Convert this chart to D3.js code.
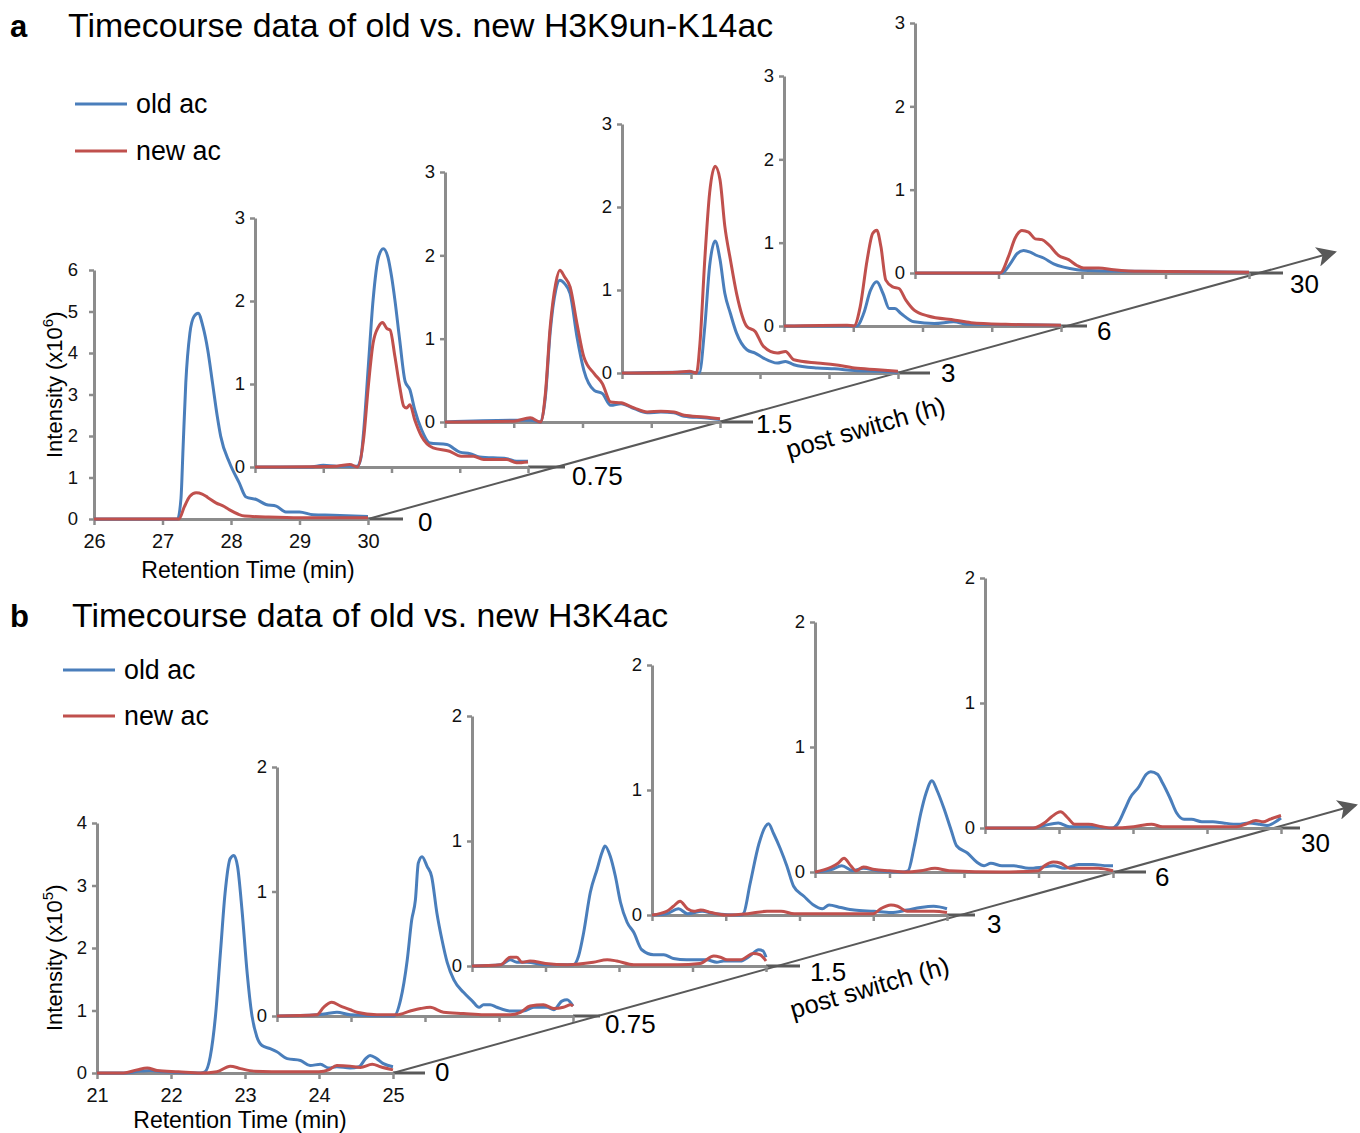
<!DOCTYPE html>
<html><head><meta charset="utf-8">
<script src="https://cdn.jsdelivr.net/npm/d3@7"></script>
<style>body{margin:0;background:#fff} svg{display:block} text{font-family:"Liberation Sans",Arial,Helvetica,sans-serif}</style>
</head><body><svg id="c" width="1360" height="1133"></svg>
<script>
// ---------- DATA ----------
const timepointsA = ["0","0.75","1.5","3","6","30"];
const timepointsB = ["0","0.75","1.5","3","6","30"];
const xTicksA = [26,27,28,29,30];
const xTicksB = [21,22,23,24,25];
const yTicksA0 = [0,1,2,3,4,5,6];
const yTicksA = [0,1,2,3];
const yTicksB0 = [0,1,2,3,4];
const yTicksB = [0,1,2];
const seriesNames = ["old ac","new ac"];
const titleA = "Timecourse data of old vs. new H3K9un-K14ac";
const titleB = "Timecourse data of old vs. new H3K4ac";

// Panel a (x10^6), [retention time (min), intensity]
const a0_old = [[26,0],[27.22,0],[27.27,0.5],[27.30,1.7],[27.34,3.28],[27.40,4.48],[27.46,4.88],[27.52,4.96],[27.59,4.64],[27.66,4.08],[27.73,3.28],[27.80,2.47],[27.85,1.99],[27.98,1.35],[28.12,0.87],[28.22,0.53],[28.37,0.47],[28.51,0.35],[28.66,0.31],[28.80,0.17],[29.0,0.17],[29.2,0.10],[29.49,0.09],[30,0.06]];
const a0_new = [[26,0],[27.24,0],[27.32,0.3],[27.40,0.55],[27.49,0.63],[27.58,0.60],[27.66,0.52],[27.78,0.39],[27.90,0.30],[27.98,0.22],[28.10,0.12],[28.2,0.07],[28.5,0.05],[29,0.03],[30,0.03]];
const a1_old = [[26,0],[26.8,0],[27.0,0.02],[27.2,0.01],[27.5,0.01],[27.55,0.1],[27.59,0.41],[27.66,1.21],[27.73,2.01],[27.81,2.53],[27.88,2.63],[27.95,2.52],[28.0,2.30],[28.05,2.01],[28.12,1.53],[28.20,1.03],[28.27,0.93],[28.34,0.69],[28.44,0.45],[28.56,0.29],[28.81,0.27],[29.0,0.18],[29.15,0.16],[29.29,0.12],[29.69,0.10],[29.83,0.07],[30,0.07]];
const a1_new = [[26,0],[27.2,0.01],[27.39,0.03],[27.5,0],[27.59,0.33],[27.66,0.97],[27.73,1.49],[27.81,1.69],[27.87,1.74],[27.93,1.67],[27.98,1.65],[28.05,1.33],[28.12,0.97],[28.18,0.73],[28.22,0.71],[28.27,0.75],[28.34,0.57],[28.44,0.37],[28.61,0.23],[28.85,0.19],[29.02,0.13],[29.2,0.13],[29.35,0.09],[29.69,0.09],[29.83,0.05],[30,0.06]];
const a2_old = [[26,0],[27.0,0.02],[27.24,0.02],[27.39,0],[27.46,0.30],[27.53,1.08],[27.61,1.58],[27.67,1.70],[27.74,1.66],[27.82,1.54],[27.92,1.02],[28.02,0.62],[28.17,0.38],[28.29,0.34],[28.41,0.20],[28.56,0.22],[28.75,0.16],[28.94,0.11],[29.14,0.12],[29.33,0.11],[29.48,0.07],[29.77,0.05],[30,0.03]];
const a2_new = [[26,0],[27.0,0.01],[27.24,0.05],[27.39,0],[27.46,0.34],[27.53,1.14],[27.61,1.66],[27.67,1.82],[27.74,1.74],[27.82,1.62],[27.92,1.18],[28.02,0.78],[28.17,0.58],[28.29,0.46],[28.41,0.24],[28.56,0.23],[28.75,0.17],[28.94,0.12],[29.14,0.13],[29.33,0.12],[29.48,0.08],[29.77,0.06],[30,0.04]];
const a3_old = [[26,0],[26.8,0.01],[27.0,0.01],[27.12,0],[27.20,0.56],[27.27,1.29],[27.35,1.59],[27.42,1.37],[27.49,0.96],[27.57,0.72],[27.66,0.48],[27.81,0.28],[27.93,0.24],[28.05,0.18],[28.25,0.12],[28.37,0.14],[28.49,0.10],[28.83,0.06],[29.08,0.05],[29.37,0.03],[29.71,0.02],[30,0.01]];
const a3_new = [[26,0],[26.8,0.01],[26.98,0.02],[27.08,0],[27.13,0.36],[27.20,1.37],[27.27,2.17],[27.35,2.49],[27.42,2.33],[27.49,1.77],[27.57,1.37],[27.66,0.96],[27.81,0.56],[27.93,0.50],[28.05,0.32],[28.25,0.24],[28.37,0.26],[28.49,0.16],[28.83,0.12],[29.08,0.10],[29.37,0.06],[29.71,0.04],[30,0.02]];
const a4_old = [[26,0],[27.05,0],[27.15,0.15],[27.25,0.43],[27.34,0.53],[27.43,0.39],[27.52,0.21],[27.60,0.21],[27.69,0.15],[27.88,0.05],[28.17,0.03],[28.45,0.05],[28.65,0.02],[30,0.01]];
const a4_new = [[26,0],[26.91,0.01],[27.01,0],[27.10,0.23],[27.20,0.79],[27.28,1.11],[27.34,1.15],[27.40,0.95],[27.47,0.55],[27.57,0.47],[27.66,0.45],[27.76,0.31],[27.88,0.19],[28.08,0.12],[28.47,0.07],[28.7,0.04],[29.2,0.02],[30,0.01]];
const a5_old = [[26,0],[27.04,0],[27.14,0.11],[27.22,0.23],[27.30,0.27],[27.38,0.25],[27.46,0.21],[27.54,0.18],[27.66,0.11],[27.78,0.07],[27.94,0.04],[28.1,0.03],[28.6,0.02],[30,0.01]];
const a5_new = [[26,0],[27.02,0],[27.12,0.20],[27.20,0.42],[27.28,0.51],[27.36,0.49],[27.44,0.41],[27.52,0.40],[27.60,0.34],[27.72,0.21],[27.84,0.16],[27.94,0.09],[28.02,0.06],[28.2,0.06],[28.38,0.04],[28.7,0.02],[30,0.01]];

// Panel b (x10^5)
const b0_old = [[21,0],[21.36,0],[21.59,0.03],[21.72,0.04],[21.9,0.02],[22.4,0],[22.46,0.02],[22.53,0.26],[22.60,0.90],[22.67,1.96],[22.73,2.87],[22.80,3.43],[22.85,3.48],[22.90,3.30],[22.96,2.60],[23.03,1.59],[23.09,0.95],[23.16,0.58],[23.23,0.44],[23.34,0.39],[23.43,0.34],[23.57,0.23],[23.75,0.20],[23.88,0.12],[24.02,0.14],[24.13,0.08],[24.24,0.10],[24.42,0.08],[24.54,0.10],[24.63,0.23],[24.69,0.28],[24.78,0.23],[24.87,0.15],[25,0.10]];
const b0_new = [[21,0],[21.36,0],[21.54,0.05],[21.68,0.08],[21.81,0.04],[22.1,0.02],[22.4,0],[22.62,0.02],[22.80,0.11],[22.94,0.07],[23.12,0.03],[23.6,0.02],[24.0,0.02],[24.13,0.05],[24.24,0.12],[24.42,0.11],[24.56,0.09],[24.72,0.14],[24.83,0.10],[25,0.05]];
const b1_old = [[21,0],[21.54,0.01],[21.68,0.02],[21.81,0.03],[21.99,0.01],[22.58,0],[22.67,0.13],[22.76,0.45],[22.82,0.77],[22.87,0.93],[22.91,1.23],[22.96,1.28],[23.03,1.20],[23.09,1.12],[23.16,0.83],[23.23,0.61],[23.30,0.43],[23.39,0.29],[23.52,0.19],[23.64,0.12],[23.73,0.07],[23.79,0.09],[23.88,0.09],[23.97,0.07],[24.15,0.04],[24.33,0.04],[24.47,0.07],[24.65,0.07],[24.74,0.05],[24.85,0.12],[24.92,0.13],[25,0.08]];
const b1_new = [[21,0],[21.54,0.01],[21.63,0.07],[21.74,0.11],[21.86,0.08],[21.99,0.05],[22.08,0.03],[22.35,0.01],[22.62,0.01],[22.80,0.04],[22.94,0.06],[23.07,0.07],[23.25,0.03],[23.52,0.02],[23.8,0.01],[24.15,0.01],[24.29,0.03],[24.42,0.08],[24.6,0.09],[24.74,0.06],[24.87,0.07],[24.97,0.09],[25,0.08]];
const b2_old = [[21,0],[21.39,0.01],[21.52,0.05],[21.61,0.03],[21.75,0.03],[22.0,0.01],[22.38,0.01],[22.45,0.08],[22.52,0.27],[22.61,0.59],[22.70,0.77],[22.77,0.91],[22.81,0.96],[22.88,0.88],[22.95,0.72],[23.02,0.51],[23.11,0.35],[23.20,0.27],[23.31,0.13],[23.47,0.09],[23.61,0.09],[23.74,0.06],[23.92,0.05],[24.19,0.05],[24.33,0.03],[24.42,0.04],[24.65,0.04],[24.78,0.08],[24.90,0.13],[24.96,0.12],[25,0.07]];
const b2_new = [[21,0],[21.39,0.01],[21.52,0.07],[21.61,0.07],[21.68,0.03],[21.79,0.04],[22.0,0.02],[22.3,0.01],[22.65,0.03],[22.84,0.05],[22.97,0.04],[23.2,0.01],[23.8,0.01],[24.1,0.02],[24.29,0.08],[24.38,0.07],[24.47,0.05],[24.65,0.05],[24.83,0.10],[24.92,0.09],[25,0.04]];
const b3_old = [[21,0],[21.2,0.01],[21.36,0.05],[21.48,0.01],[21.68,0.03],[21.85,0.01],[22.2,0],[22.24,0.01],[22.33,0.25],[22.45,0.57],[22.54,0.71],[22.58,0.73],[22.65,0.65],[22.74,0.53],[22.83,0.39],[22.92,0.23],[23.06,0.15],[23.19,0.08],[23.31,0.05],[23.40,0.08],[23.56,0.06],[23.74,0.04],[24.01,0.03],[24.24,0.02],[24.46,0.04],[24.64,0.06],[24.82,0.07],[25,0.05]];
const b3_new = [[21,0],[21.2,0.03],[21.29,0.07],[21.38,0.11],[21.48,0.05],[21.57,0.03],[21.66,0.04],[21.8,0.02],[22.0,0],[22.3,0.01],[22.56,0.03],[22.75,0.03],[22.93,0.01],[23.5,0.01],[24.0,0.01],[24.1,0.05],[24.24,0.08],[24.33,0.07],[24.46,0.03],[24.82,0.03],[25,0.02]];
const b4_old = [[21,0],[21.22,0.02],[21.36,0.05],[21.51,0.01],[21.65,0.03],[21.84,0.01],[22.18,0],[22.25,0.01],[22.33,0.2],[22.42,0.47],[22.49,0.63],[22.57,0.73],[22.64,0.65],[22.73,0.51],[22.83,0.33],[22.90,0.21],[23.05,0.15],[23.17,0.08],[23.27,0.05],[23.36,0.07],[23.51,0.05],[23.67,0.05],[23.87,0.03],[24.06,0.04],[24.2,0.05],[24.35,0.03],[24.54,0.06],[24.73,0.06],[24.93,0.05],[25,0.05]];
const b4_new = [[21,0],[21.22,0.04],[21.31,0.07],[21.39,0.11],[21.48,0.05],[21.55,0.01],[21.65,0.04],[21.8,0.02],[22.0,0.01],[22.2,0],[22.42,0.01],[22.61,0.03],[22.8,0.01],[23.5,0],[24.0,0.01],[24.08,0.05],[24.2,0.08],[24.30,0.07],[24.42,0.03],[24.59,0.03],[24.8,0.03],[25,0.01]];
const b5_old = [[21,0],[21.65,0],[21.8,0.02],[21.99,0.04],[22.14,0.01],[22.4,0.01],[22.72,0],[22.79,0.03],[22.89,0.15],[22.96,0.24],[23.08,0.33],[23.18,0.43],[23.24,0.45],[23.33,0.43],[23.40,0.36],[23.50,0.24],[23.59,0.12],[23.69,0.07],[23.79,0.07],[23.93,0.05],[24.08,0.05],[24.22,0.04],[24.42,0.03],[24.56,0.04],[24.71,0.03],[24.81,0.02],[24.9,0.04],[25,0.08]];
const b5_new = [[21,0],[21.65,0],[21.8,0.04],[21.9,0.09],[22.02,0.13],[22.12,0.08],[22.21,0.03],[22.4,0.03],[22.58,0.01],[22.72,0],[23.01,0.01],[23.25,0.03],[23.4,0.01],[24.0,0.01],[24.4,0.01],[24.52,0.03],[24.66,0.06],[24.76,0.05],[24.85,0.07],[25,0.1]];

// ---------- LAYOUT (positions only) ----------
const layoutA = [
  {x:94, y:519,w:274,h:249,ll:35,tx:50,ty:3},
  {x:255,y:467,w:273,h:249,ll:37,tx:44,ty:9},
  {x:445,y:422,w:275,h:250,ll:33,tx:36,ty:2},
  {x:622,y:373,w:276,h:249,ll:32,tx:43,ty:0},
  {x:784,y:326,w:277,h:250,ll:26,tx:36,ty:5},
  {x:915,y:273,w:334,h:250,ll:34,tx:41,ty:11}
];
const layoutB = [
  {x:97, y:1073,w:296,h:250,ll:32,tx:42,ty:-1},
  {x:277,y:1016,w:296,h:249,ll:27,tx:32,ty:8},
  {x:472,y:966,w:294,h:250,ll:34,tx:44,ty:6},
  {x:652,y:915,w:295,h:250,ll:28,tx:40,ty:9},
  {x:815,y:872,w:298,h:250,ll:33,tx:42,ty:5},
  {x:985,y:828,w:296,h:250,ll:19,tx:20,ty:15}
];

const BLUE="#4A7EBB", RED="#C0504D", AXIS="#8C8C8C", DARK="#595959";
const svg = d3.select("#c");
const defs = svg.append("defs");
defs.append("marker").attr("id","arr").attr("viewBox","0 0 10 10").attr("refX",9).attr("refY",5)
  .attr("markerWidth",11).attr("markerHeight",10).attr("markerUnits","strokeWidth").attr("orient","auto")
  .append("path").attr("d","M0,0 L10,5 L0,10 L2.5,5 Z").attr("fill",DARK);

function drawPanel(cfg){
  const g = svg.append("g");
  g.append("text").attr("x",cfg.letterX).attr("y",cfg.titleY).attr("font-size",31).attr("font-weight","bold").text(cfg.letter);
  g.append("text").attr("x",cfg.titleX).attr("y",cfg.titleY).attr("font-size",33.8).text(cfg.title);
  [cfg.oldColor, cfg.newColor].forEach((c,i)=>{
    const ly = cfg.legY + i*cfg.legGap;
    g.append("line").attr("x1",cfg.legX).attr("x2",cfg.legX+52).attr("y1",ly).attr("y2",ly).attr("stroke",c).attr("stroke-width",3);
    g.append("text").attr("x",cfg.legX+61).attr("y",ly).attr("dy","0.35em").attr("font-size",26.8).text(seriesNames[i]);
  });
  const L = cfg.layout;
  const first = L[0];
  g.append("line").attr("x1",first.x+first.w).attr("y1",first.y).attr("x2",cfg.arrowTip[0]).attr("y2",cfg.arrowTip[1])
    .attr("stroke",DARK).attr("stroke-width",2).attr("marker-end","url(#arr)");
  g.append("text").attr("transform",`translate(${cfg.psPos[0]},${cfg.psPos[1]}) rotate(-16)`)
    .attr("text-anchor","middle").attr("font-size",25.5).text("post switch (h)");

  for(let i=L.length-1;i>=0;i--){
    const l = L[i];
    const ymax = i===0 ? cfg.ymax0 : cfg.ymax;
    const yt = i===0 ? cfg.yTicks0 : cfg.yTicks;
    const x = d3.scaleLinear().domain([cfg.xTicks[0], cfg.xTicks[cfg.xTicks.length-1]]).range([l.x, l.x+l.w]);
    const y = d3.scaleLinear().domain([0, ymax]).range([l.y, l.y-l.h]);
    const pg = g.append("g");
    pg.append("line").attr("x1",l.x+l.w).attr("x2",l.x+l.w+l.ll).attr("y1",l.y).attr("y2",l.y).attr("stroke",DARK).attr("stroke-width",3);
    pg.append("text").attr("x",l.x+l.w+l.tx).attr("y",l.y+l.ty).attr("dy","0.35em").attr("font-size",26).text(cfg.timepoints[i]);
    const ya = pg.append("g").attr("transform",`translate(${l.x},0)`)
      .call(d3.axisLeft(y).tickValues(yt).tickSize(5).tickSizeOuter(0).tickPadding(i===0?cfg.pad0:5).tickFormat(d3.format("d")));
    const xa = pg.append("g").attr("transform",`translate(0,${l.y})`)
      .call(d3.axisBottom(x).tickValues(cfg.xTicks).tickSize(6).tickSizeOuter(0).tickPadding(9).tickFormat(i===0?d3.format("d"):()=>""));
    [ya,xa].forEach(a=>{
      a.select(".domain").attr("stroke",AXIS).attr("stroke-width",3);
      a.selectAll(".tick line").attr("stroke",AXIS).attr("stroke-width",2.5);
      a.selectAll(".tick text").attr("fill","#111").attr("font-family",'"Liberation Sans",Arial,sans-serif');
    });
    ya.selectAll(".tick text").attr("font-size",i===0?18.5:18.5);
    xa.selectAll(".tick text").attr("font-size",20);
    const line = d3.line().x(d=>x(d[0])).y(d=>y(d[1])).curve(d3.curveMonotoneX);
    pg.append("path").datum(cfg.old[i]).attr("d",line).attr("fill","none").attr("stroke",cfg.oldColor).attr("stroke-width",3).attr("stroke-linejoin","round");
    pg.append("path").datum(cfg.neu[i]).attr("d",line).attr("fill","none").attr("stroke",cfg.newColor).attr("stroke-width",3).attr("stroke-linejoin","round");
    if(i===0){
      pg.append("text").attr("x",l.x+l.w/2+cfg.xtDx).attr("y",cfg.xtY).attr("text-anchor","middle").attr("font-size",23).text("Retention Time (min)");
      const t = pg.append("text").attr("transform",`translate(${cfg.ytX},${cfg.ytY}) rotate(-90)`).attr("font-size",22);
      t.append("tspan").text("Intensity (x10");
      t.append("tspan").attr("dy",-9).attr("font-size",15).text(cfg.exp);
      t.append("tspan").attr("dy",9).text(")");
    }
  }
}

drawPanel({letter:"a",letterX:10,titleX:68,titleY:37,title:titleA,legX:75,legY:104,legGap:47,
  oldColor:BLUE,newColor:RED,layout:layoutA,arrowTip:[1335,252],psPos:[868,436],
  timepoints:timepointsA,xTicks:xTicksA,yTicks:yTicksA,yTicks0:yTicksA0,ymax0:6,ymax:3,pad0:11,
  old:[a0_old,a1_old,a2_old,a3_old,a4_old,a5_old],neu:[a0_new,a1_new,a2_new,a3_new,a4_new,a5_new],
  xtDx:17,xtY:578,ytX:62,ytY:458,exp:"6"});
drawPanel({letter:"b",letterX:10,titleX:72,titleY:627,title:titleB,legX:63,legY:670,legGap:46,
  oldColor:BLUE,newColor:RED,layout:layoutB,arrowTip:[1356,805],psPos:[872,996],
  timepoints:timepointsB,xTicks:xTicksB,yTicks:yTicksB,yTicks0:yTicksB0,ymax0:4,ymax:2,pad0:5,
  old:[b0_old,b1_old,b2_old,b3_old,b4_old,b5_old],neu:[b0_new,b1_new,b2_new,b3_new,b4_new,b5_new],
  xtDx:-5,xtY:1128,ytX:62,ytY:1031,exp:"5"});
</script></body></html>
